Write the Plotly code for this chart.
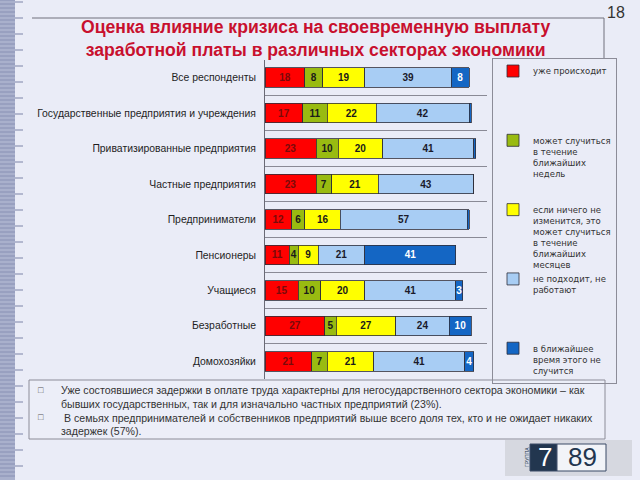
import plotly.graph_objects as go

categories = ["Все респонденты", "Государственные предприятия и учреждения",
              "Приватизированные предприятия", "Частные предприятия",
              "Предприниматели", "Пенсионеры", "Учащиеся", "Безработные", "Домохозяйки"]
already = [18, 17, 23, 23, 12, 11, 15, 27, 21]
weeks = [8, 11, 10, 7, 6, 4, 10, 5, 7]
months = [19, 22, 20, 21, 16, 9, 20, 27, 21]
not_applicable = [39, 42, 41, 43, 57, 21, 41, 24, 41]
wont_happen = [8, 1, 1, 0, 1, 41, 3, 10, 4]

series_names = [
    "уже происходит",
    "может случиться<br>в течение<br>ближайших<br>недель",
    "если ничего не<br>изменится, это<br>может случиться<br>в течение<br>ближайших<br>месяцев",
    "не подходит, не<br>работают",
    "в ближайшее<br>время этого не<br>случится",
]
series_values = [already, weeks, months, not_applicable, wont_happen]
series_colors = ["#FF0000", "#99BB11", "#FFFF00", "#A8CDF4", "#1466C4"]
text_colors = ["#7A0A0A", "#1A1A1A", "#1A1A1A", "#1A1A2A", "#FFFFFF"]

title_text = "Оценка влияние кризиса на своевременную выплату<br>заработной платы в различных секторах экономики"
notes = [
    "Уже состоявшиеся задержки в оплате труда характерны для негосударственного сектора экономики – как<br>бывших государственных, так и для изначально частных предприятий (23%).",
    " В семьях предпринимателей и собственников предприятий выше всего доля тех, кто и не ожидает никаких<br>задержек (57%).",
]

W, H = 640, 480
def px(x): return x / W
def py(y): return 1 - y / H

def pad_lines(name, n=6):
    k = name.count("<br>") + 1
    return name + "<br>\u00a0" * max(0, n - k)

fig = go.Figure()
for i, (name, vals, col, tcol) in enumerate(zip(series_names, series_values, series_colors, text_colors)):
    fig.add_trace(go.Bar(
        y=categories, x=vals, orientation="h",
        name=pad_lines(name) if i < len(series_names) - 1 else name,
        marker=dict(color=col, line=dict(color="#2E2E3A", width=0.8)),
        text=[str(v) if v >= 2 else "" for v in vals],
        textposition="inside", insidetextanchor="middle",
        textfont=dict(family="Liberation Sans, Arial", size=10, color=tcol, weight="bold"),
        textangle=0, constraintext="none", cliponaxis=False,
        hoverinfo="skip",
    ))

fig.update_layout(
    width=W, height=H, margin=dict(l=0, r=0, t=0, b=0),
    paper_bgcolor="#EAECF7", plot_bgcolor="rgba(0,0,0,0)",
    barmode="stack", bargap=0.45,
    font=dict(family="Liberation Sans, Arial", color="#222"),
    xaxis=dict(domain=[px(265), px(487)], range=[0, 100], showticklabels=False,
               showgrid=False, zeroline=False, showline=False, ticks=""),
    yaxis=dict(domain=[py(379), py(60)], autorange="reversed", tickson="boundaries",
               showgrid=True, gridcolor="#8A8A96", gridwidth=1, ticks="",
               showline=True, linecolor="#6A6A76", linewidth=1,
               tickfont=dict(size=10.4, color="#1E1E1E"), ticklabelstandoff=6),
    legend=dict(x=px(492), y=py(58), xanchor="left", yanchor="top",
                bordercolor="#8C8C98", borderwidth=1, bgcolor="rgba(0,0,0,0)",
                font=dict(size=8.5, color="#333", family="DejaVu Sans"),
                traceorder="normal", valign="top", itemwidth=30),
    showlegend=True,
)

# title
fig.add_annotation(x=px(315), y=py(38.5), xref="paper", yref="paper", text="<b>" + title_text + "</b>",
                   showarrow=False, font=dict(size=17.6, color="#C8102E", family="Liberation Sans, Arial"),
                   align="center", xanchor="center", yanchor="middle")
# page number and header lines
fig.add_annotation(x=px(605), y=py(12), xref="paper", yref="paper", text="18", showarrow=False,
                   font=dict(size=16, color="#333"), xanchor="left", yanchor="middle")
fig.add_shape(type="line", xref="paper", yref="paper", x0=px(32), x1=px(604), y0=py(18), y1=py(18),
              line=dict(color="#70707C", width=1))
fig.add_shape(type="line", xref="paper", yref="paper", x0=px(604), x1=px(604), y0=py(18), y1=py(58),
              line=dict(color="#70707C", width=1))

# left decorative ruler
fig.add_shape(type="rect", xref="paper", yref="paper", x0=0, x1=px(15), y0=0, y1=1,
              line=dict(width=0), fillcolor="#A9B0CC", layer="below")
for i in range(0, H, 4):
    fig.add_shape(type="line", xref="paper", yref="paper", x0=0, x1=px(15), y0=py(i), y1=py(i),
                  line=dict(color="#8890B4", width=1), layer="below")
for i in range(2, H, 16):
    fig.add_shape(type="line", xref="paper", yref="paper", x0=px(15), x1=px(23), y0=py(i), y1=py(i),
                  line=dict(color="#7D84A8", width=1), layer="below")

# notes box
fig.add_shape(type="rect", xref="paper", yref="paper", x0=px(29), x1=px(605), y0=py(439), y1=py(380),
              line=dict(color="#8C8C98", width=1), fillcolor="#ECEEF8")
fig.add_annotation(x=px(59), y=py(382), xref="paper", yref="paper",
                   text=notes[0] + "<br>" + notes[1], showarrow=False, align="left",
                   xanchor="left", yanchor="top", font=dict(size=10.6, color="#333"))
for yb in (390, 417):
    fig.add_annotation(x=px(36), y=py(yb), xref="paper", yref="paper", text="□", showarrow=False,
                       xanchor="left", yanchor="middle", font=dict(size=9, color="#555"))

# logo
fig.add_shape(type="rect", xref="paper", yref="paper", x0=px(505), x1=px(632), y0=py(476), y1=py(440),
              line=dict(width=0), fillcolor="#D6D8E0", layer="below")
fig.add_shape(type="rect", xref="paper", yref="paper", x0=px(530), x1=px(557), y0=py(471), y1=py(444),
              line=dict(color="#3A4A66", width=1), fillcolor="#22364F")
fig.add_shape(type="rect", xref="paper", yref="paper", x0=px(557), x1=px(606), y0=py(471), y1=py(444),
              line=dict(color="#3A4A66", width=1), fillcolor="#F2F4F8")
fig.add_annotation(x=px(545), y=py(457), xref="paper", yref="paper", text="7", showarrow=False,
                   font=dict(size=26, color="white"), xanchor="center", yanchor="middle")
fig.add_annotation(x=px(582), y=py(457), xref="paper", yref="paper", text="89", showarrow=False,
                   font=dict(size=26, color="#22364F"), xanchor="center", yanchor="middle")
fig.add_annotation(x=px(527), y=py(457), xref="paper", yref="paper", text="ГРУППА", showarrow=False,
                   textangle=-90, font=dict(size=5, color="#22364F"), xanchor="center", yanchor="middle")

fig.write_html("out.html", config={"displayModeBar": False},
               post_script="document.body.style.margin='0';")
